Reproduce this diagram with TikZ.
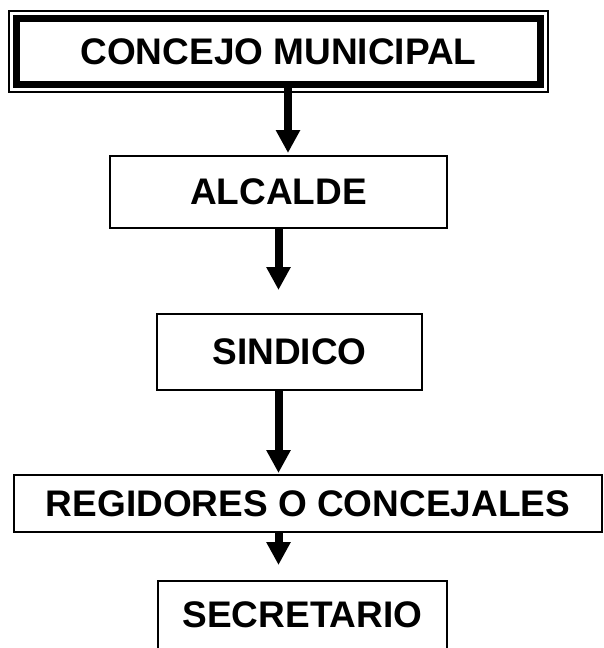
\documentclass[tikz,border=0pt]{standalone}
\usepackage{fontspec}
\setmainfont{Liberation Sans}
\usetikzlibrary{positioning,arrows.meta}

\begin{document}
\begin{tikzpicture}[x=1pt,y=-1pt,
    main/.style = {draw, rectangle, line width=1.5pt, inner sep=0pt, outer sep=0pt, font=\fontsize{37}{44}\selectfont\bfseries},
    flecha/.style = {line width=8pt, -{Triangle[width=23pt,length=23pt]}}]
        \useasboundingbox (0,0) rectangle (603,648);
        \node[main, line width=7pt, minimum width=524pt, minimum height=66pt] (1) at (278.5,51.5) {CONCEJO MUNICIPAL};
        \draw[line width=1.5pt] ([shift={(-7.5pt,7.5pt)}]1.north west) rectangle ([shift={(7.5pt,-7.5pt)}]1.south east);
        \node[main, minimum width=337pt, minimum height=72pt] (2) [below=71.5pt of 1] {ALCALDE};
        \node[main, minimum width=265pt, minimum height=76pt] (3) [below=86pt of 2, xshift=11pt] {SINDICO};
        \node[main, minimum width=588pt, minimum height=57pt] (4) [below=85pt of 3, xshift=18.5pt] {REGIDORES O CONCEJALES};
        \node[main, minimum width=289pt, minimum height=68pt] (5) [below=49pt of 4, xshift=-5.5pt] {SECRETARIO};
        \coordinate (a) at ([xshift=9.5pt]1.south);
        \draw[flecha, shorten >=3pt] (a) -- (a |- 2.north);
        \draw[flecha, shorten >=24pt] (2.south) -- (2.south |- 3.north);
        \draw[flecha, shorten >=2pt] (2.south |- 3.south) -- (2.south |- 4.north);
        \draw[flecha, shorten >=16pt] (2.south |- 4.south) -- (2.south |- 5.north);
\end{tikzpicture}
\end{document}
